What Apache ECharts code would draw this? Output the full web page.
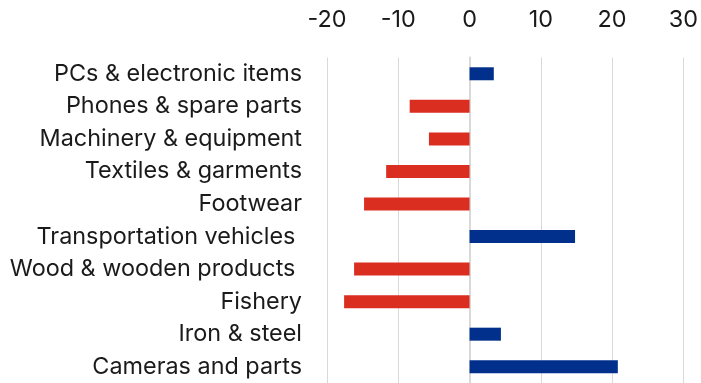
<!DOCTYPE html>
<html><head><meta charset="utf-8">
<script src="https://cdn.jsdelivr.net/npm/echarts@6/dist/echarts.min.js"></script>
<style>html,body{margin:0;padding:0;background:#fff}#c{width:701px;height:383px}</style>
</head><body><div id="c"></div>
<script>
const categories = ["PCs & electronic items","Phones & spare parts","Machinery & equipment","Textiles & garments","Footwear","Transportation vehicles ","Wood & wooden products ","Fishery","Iron & steel","Cameras and parts"];
const values = [3.4,-8.4,-5.7,-11.7,-14.8,14.8,-16.2,-17.6,4.4,20.8];
const xTicks = [-20,-10,0,10,20,30];
const POS = "#00308C", NEG = "#D92E20";
const chart = echarts.init(document.getElementById('c'), null, {renderer:'canvas'});
chart.setOption({
  animation:false,
  textStyle:{fontFamily:'Inter'},
  grid:{left:327, right:15, top:57.5, bottom:-3.5, containLabel:false},
  xAxis:{type:'value', position:'top', min:xTicks[0], max:xTicks[xTicks.length-1], interval:10,
    axisLine:{show:false}, axisTick:{show:false},
    axisLabel:{fontSize:23.4, color:'#1a1a1a', margin:26, fontFamily:'Inter'},
    splitLine:{lineStyle:{color:'#d9d9d9', width:1}}},
  yAxis:{type:'category', data:categories, inverse:true,
    axisLine:{onZero:true, lineStyle:{color:'#d9d9d9', width:2}},
    axisTick:{show:false},
    axisLabel:{fontSize:23.4, color:'#1a1a1a', margin:25, fontFamily:'Inter'}},
  series:[{type:'bar', data:values, barWidth:13,
    itemStyle:{color:p=>p.value>=0?POS:NEG}}]
});
</script></body></html>
